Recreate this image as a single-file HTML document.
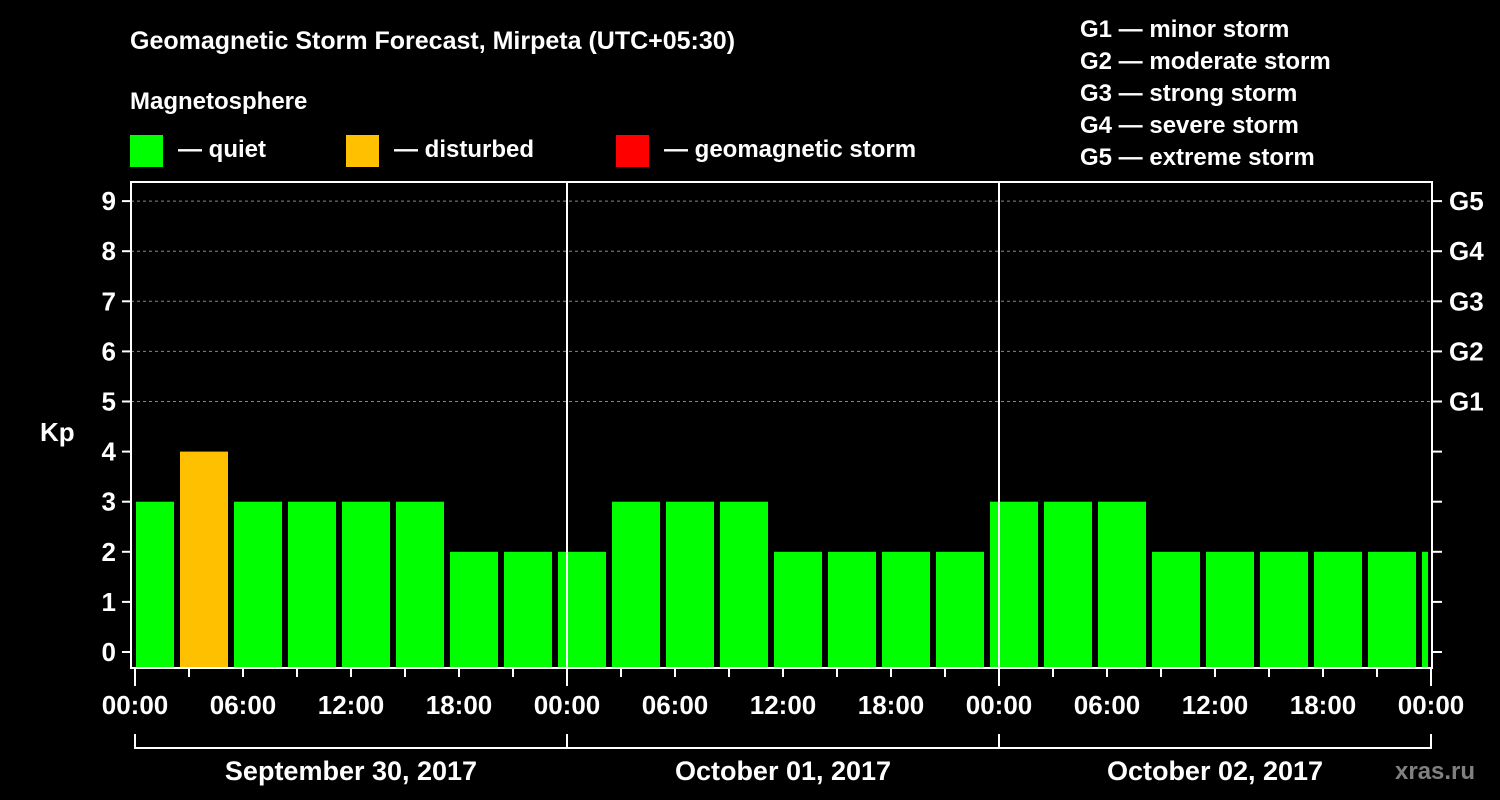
<!DOCTYPE html>
<html><head><meta charset="utf-8"><style>
html,body{margin:0;padding:0;background:#000;}
svg{display:block;font-family:"Liberation Sans",sans-serif;font-weight:bold;}
</style></head><body>
<svg width="1500" height="800" viewBox="0 0 1500 800">
<rect width="1500" height="800" fill="#000"/>
<text x="130" y="49" fill="#fff" font-size="25">Geomagnetic Storm Forecast, Mirpeta (UTC+05:30)</text>
<text x="130" y="109" fill="#fff" font-size="24">Magnetosphere</text>
<g><rect x="130" y="135" width="33" height="32" fill="#00ff00"/><text x="178" y="157" fill="#fff" font-size="24">— quiet</text></g>
<g><rect x="346" y="135" width="33" height="32" fill="#ffc000"/><text x="394" y="157" fill="#fff" font-size="24">— disturbed</text></g>
<g><rect x="616" y="135" width="33" height="32" fill="#ff0000"/><text x="664" y="157" fill="#fff" font-size="24">— geomagnetic storm</text></g>
<g fill="#fff" font-size="24">
<text x="1080" y="37">G1 — minor storm</text>
<text x="1080" y="69">G2 — moderate storm</text>
<text x="1080" y="101">G3 — strong storm</text>
<text x="1080" y="133">G4 — severe storm</text>
<text x="1080" y="165">G5 — extreme storm</text>
</g>
<g id="plot"></g>
<text x="40" y="441" fill="#fff" font-size="26">Kp</text>
<text x="1395" y="779" fill="#808080" font-size="24">xras.ru</text>
</svg>
<script>
const kpValues=[3,4,3,3,3,3,2,2,2,3,3,3,2,2,2,2,3,3,3,2,2,2,2,2,2];
const dayLabels=["September 30, 2017","October 01, 2017","October 02, 2017"];
const hourTicks=["00:00","06:00","12:00","18:00"];
const gLabels=["G1","G2","G3","G4","G5"];
const binStartHour=-5/6;
const NS="http://www.w3.org/2000/svg";
const g=document.getElementById('plot');
const L=131,R=1432,T=182,B=668,X0=135,PX_H=18;
const x=h=>X0+h*PX_H;
const y=v=>652-50.1*v;
function mk(t,a){const e=document.createElementNS(NS,t);for(const k in a)e.setAttribute(k,a[k]);g.appendChild(e);return e;}
// grid
for(let v=5;v<=9;v++){const e=mk('line',{x1:L,x2:R,y1:y(v),y2:y(v),stroke:'#888','stroke-dasharray':'3,3','stroke-width':1});

}
// bars
kpValues.forEach((v,i)=>{
 let x1=x(binStartHour+3*i)+6, x2=x1+48;
 x1=Math.max(x1,136); x2=Math.min(x2,1428);
 const c=v>=5?'#ff0000':(v>=4?'#ffc000':'#00ff00');
 const r=mk('rect',{x:x1,y:y(v),width:x2-x1,height:B-y(v),fill:c});
 
 
});
// frame
const f=mk('rect',{x:L,y:T,width:R-L,height:B-T,fill:'none',stroke:'#fff','stroke-width':2});


// day separators
for(let d=1;d<3;d++){const e=mk('line',{x1:x(24*d),x2:x(24*d),y1:T,y2:B,stroke:'#fff','stroke-width':2});

}
// y ticks
for(let v=0;v<=9;v++){
 mk('line',{x1:122,x2:L,y1:y(v),y2:y(v),stroke:'#fff','stroke-width':2});
 mk('line',{x1:R,x2:1442,y1:y(v),y2:y(v),stroke:'#fff','stroke-width':2});
 const t=mk('text',{x:116,y:y(v)+9,fill:'#fff','font-size':26,'text-anchor':'end'});t.textContent=v;
 
 
}
gLabels.forEach((s,i)=>{const t=mk('text',{x:1449,y:y(5+i)+9,fill:'#fff','font-size':26});t.textContent=s;
 
 });
// x ticks
for(let h=0;h<=72;h+=3){
 const major=h%24===0;
 mk('line',{x1:x(h),x2:x(h),y1:B,y2:major?686:677,stroke:'#fff','stroke-width':2});
 if(h%6===0){const t=mk('text',{x:x(h),y:714,fill:'#fff','font-size':26,'text-anchor':'middle'});t.textContent=hourTicks[(h%24)/6];
 
 }
}
// date brackets
mk('line',{x1:x(0),x2:x(72),y1:748,y2:748,stroke:'#fff','stroke-width':2});
for(let d=0;d<=3;d++)mk('line',{x1:x(24*d),x2:x(24*d),y1:734,y2:749,stroke:'#fff','stroke-width':2});
dayLabels.forEach((s,d)=>{const t=mk('text',{x:x(24*d+12),y:780,fill:'#fff','font-size':27,'text-anchor':'middle'});t.textContent=s;
 
 });
</script>
</body></html>
